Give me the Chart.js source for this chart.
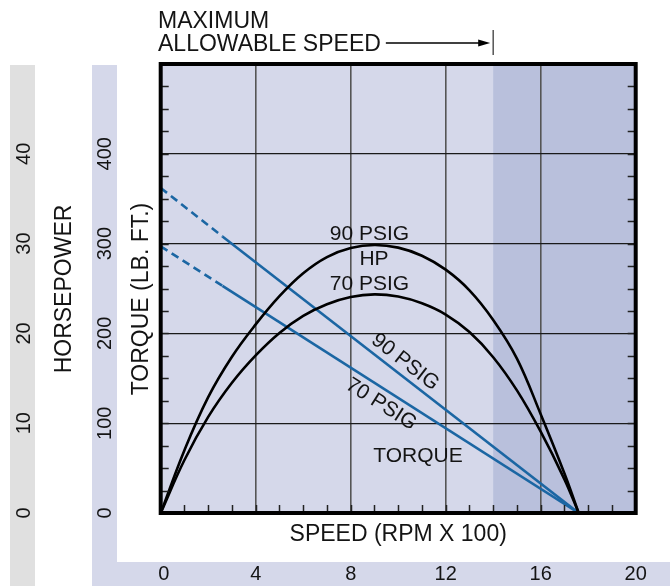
<!DOCTYPE html>
<html>
<head>
<meta charset="utf-8">
<script src="https://cdn.jsdelivr.net/npm/chart.js@4.4.1/dist/chart.umd.min.js"></script>
<style>
  html, body { margin: 0; padding: 0; background: #fff; }
  canvas { display: block; }
</style>
</head>
<body>
<canvas id="chart" width="670" height="588"></canvas>
<script>
// Values
const hpSpeed = [0, 1, 2, 3, 4, 5, 6, 7, 8, 9, 10, 11, 12, 13, 14, 15, 16, 17, 17.6];
const hp90 = [0, 7.0, 12.9, 17.4, 21.0, 24.15, 26.7, 28.5, 29.5, 29.85, 29.55, 28.65, 27.1, 24.8, 21.5, 17.2, 11.0, 4.4, 0];
const hp70 = [0, 5.9, 10.7, 14.5, 17.55, 20.05, 21.95, 23.25, 24.05, 24.35, 24.1, 23.35, 22.1, 20.15, 17.35, 13.65, 9.05, 3.75, 0];
const torqueSpeed = [0, 2.6, 17.6];
const torque90 = [362, 308, 0];
const torque70 = [297, 253, 0];
const speedTicks = [0, 4, 8, 12, 16, 20];
const torqueTicks = [0, 100, 200, 300, 400];
const hpTicks = [0, 10, 20, 30, 40];
const maxSpeed = 14;

const FONT = '"Liberation Sans", Arial, sans-serif';
const BLUE = '#1b66a3';
const LAV = '#d5d8ea';
const LAV_DARK = '#b9c0dc';
const GREY = '#e0e0e0';
const INK = '#141414';

function toPoints(xs, ys) {
    return xs.map((x, i) => ({ x: x, y: ys[i] }));
}

function rotText(ctx, text, x, y, angle) {
    ctx.save();
    ctx.translate(x, y);
    ctx.rotate(angle);
    ctx.fillText(text, 0, 0);
    ctx.restore();
}

// fondo, bandas laterales, marco y textos
const decor = {
    id: 'decor',
    beforeDraw(chart) {
        const ctx = chart.ctx;
        const a = chart.chartArea;
        const xs = chart.scales.x;
        ctx.save();
        ctx.fillStyle = GREY;
        ctx.fillRect(10, 65, 25, 521);
        ctx.fillStyle = LAV;
        ctx.fillRect(92, 65, 25, 521);
        ctx.fillRect(92, 562, 578, 24);
        ctx.fillRect(a.left, a.top, a.right - a.left, a.bottom - a.top);
        ctx.fillStyle = LAV_DARK;
        const xm = xs.getPixelForValue(maxSpeed);
        ctx.fillRect(xm, a.top, a.right - xm, a.bottom - a.top);
        ctx.restore();
    },
    afterDraw(chart) {
        const ctx = chart.ctx;
        const a = chart.chartArea;
        const xs = chart.scales.x;
        const ys = chart.scales.y;
        const yh = chart.scales.yHP;
        ctx.save();

        // marcas menores
        ctx.strokeStyle = '#222';
        ctx.lineWidth = 1.5;
        ctx.beginPath();
        for (let t = 25; t < 500; t += 25) {
            const py = Math.round(ys.getPixelForValue(t)) + 0.5;
            ctx.moveTo(a.left, py); ctx.lineTo(a.left + 8, py);
            ctx.moveTo(a.right, py); ctx.lineTo(a.right - 8, py);
        }
        for (let s = 1; s < 20; s++) {
            const px = Math.round(xs.getPixelForValue(s)) + 0.5;
            ctx.moveTo(px, a.bottom); ctx.lineTo(px, a.bottom - 8);
        }
        ctx.stroke();

        // marco
        ctx.strokeStyle = '#000';
        ctx.lineWidth = 4;
        ctx.strokeRect(a.left, a.top, a.right - a.left, a.bottom - a.top);

        ctx.fillStyle = INK;
        ctx.textAlign = 'center';
        ctx.textBaseline = 'middle';

        // etiquetas de ejes en las bandas
        ctx.font = '20px ' + FONT;
        hpTicks.forEach(v => rotText(ctx, String(v), 24, yh.getPixelForValue(v), -Math.PI / 2));
        torqueTicks.forEach(v => rotText(ctx, String(v), 105, ys.getPixelForValue(v), -Math.PI / 2));
        speedTicks.forEach(v => ctx.fillText(String(v), xs.getPixelForValue(v) + (v === 0 ? 3 : 0), 574));

        // titulos
        ctx.font = '23px ' + FONT;
        rotText(ctx, 'HORSEPOWER', 65, 289, -Math.PI / 2);
        rotText(ctx, 'TORQUE (LB. FT.)', 142, 299, -Math.PI / 2);
        ctx.textBaseline = 'alphabetic';
        ctx.fillText('SPEED (RPM X 100)', (a.left + a.right) / 2, 541);

        // velocidad maxima
        ctx.textAlign = 'left';
        ctx.fillText('MAXIMUM', 158, 28);
        ctx.fillText('ALLOWABLE SPEED', 158, 51);
        const lineStart = 158 + ctx.measureText('ALLOWABLE SPEED').width + 5;
        const xm = xs.getPixelForValue(maxSpeed);
        ctx.strokeStyle = '#000';
        ctx.lineWidth = 1.3;
        ctx.beginPath();
        ctx.moveTo(lineStart, 43); ctx.lineTo(xm - 12, 43);
        ctx.stroke();
        ctx.beginPath();
        ctx.moveTo(xm - 15, 39.5); ctx.lineTo(xm - 3, 43); ctx.lineTo(xm - 15, 46.5);
        ctx.closePath();
        ctx.fillStyle = '#000';
        ctx.fill();
        ctx.strokeStyle = '#555';
        ctx.lineWidth = 1.5;
        ctx.beginPath();
        ctx.moveTo(xm, 30); ctx.lineTo(xm, 55);
        ctx.stroke();

        // etiquetas de curvas
        ctx.fillStyle = INK;
        ctx.font = '21px ' + FONT;
        ctx.textAlign = 'center';
        ctx.fillText('90 PSIG', xs.getPixelForValue(8.79), ys.getPixelForValue(303.5));
        ctx.fillText('HP', xs.getPixelForValue(8.98), ys.getPixelForValue(276));
        ctx.fillText('70 PSIG', xs.getPixelForValue(8.79), ys.getPixelForValue(248));
        ctx.fillText('TORQUE', xs.getPixelForValue(10.83), ys.getPixelForValue(57));

        const ang = (ty) => {
            const dx = xs.getPixelForValue(torqueSpeed[2]) - xs.getPixelForValue(torqueSpeed[0]);
            const dy = ys.getPixelForValue(0) - ys.getPixelForValue(ty[0]);
            return Math.atan2(dy, dx);
        };
        ctx.textBaseline = 'middle';
        rotText(ctx, '90 PSIG', xs.getPixelForValue(10.29), ys.getPixelForValue(168), ang(torque90));
        rotText(ctx, '70 PSIG', xs.getPixelForValue(9.28), ys.getPixelForValue(121), ang(torque70));

        ctx.restore();
    }
};

const dashFirst = { borderDash: c => c.p0DataIndex === 0 ? [8, 5] : [] };

new Chart(document.getElementById('chart'), {
    type: 'line',
    data: {
        datasets: [
            { label: 'HP 90 PSIG', data: toPoints(hpSpeed, hp90), yAxisID: 'yHP', borderColor: '#000', borderWidth: 2.6, tension: 0.4 },
            { label: 'HP 70 PSIG', data: toPoints(hpSpeed, hp70), yAxisID: 'yHP', borderColor: '#000', borderWidth: 2.6, tension: 0.4 },
            { label: 'Torque 90 PSIG', data: toPoints(torqueSpeed, torque90), yAxisID: 'y', borderColor: BLUE, borderWidth: 2.6, segment: dashFirst },
            { label: 'Torque 70 PSIG', data: toPoints(torqueSpeed, torque70), yAxisID: 'y', borderColor: BLUE, borderWidth: 2.6, segment: dashFirst }
        ]
    },
    options: {
        responsive: false,
        animation: false,
        events: [],
        parsing: false,
        elements: { point: { radius: 0 } },
        layout: { padding: { left: 160.7, right: 34.3, top: 64, bottom: 75 } },
        plugins: { legend: { display: false }, tooltip: { enabled: false } },
        scales: {
            x: {
                type: 'linear', min: 0, max: 20,
                ticks: { display: false, stepSize: 4 },
                border: { display: false },
                grid: {
                    drawTicks: false,
                    lineWidth: 1.6,
                    color: c => (c.tick && (c.tick.value === 0 || c.tick.value === 20)) ? 'rgba(0,0,0,0)' : '#555'
                }
            },
            y: {
                type: 'linear', min: 0, max: 500,
                ticks: { display: false, stepSize: 100 },
                border: { display: false },
                grid: {
                    drawTicks: false,
                    lineWidth: 1.2,
                    color: c => (c.tick && (c.tick.value === 0 || c.tick.value === 500)) ? 'rgba(0,0,0,0)' : '#1a1a1a'
                }
            },
            yHP: {
                type: 'linear', min: 0, max: 50, display: false
            }
        }
    },
    plugins: [decor]
});
</script>
</body>
</html>
